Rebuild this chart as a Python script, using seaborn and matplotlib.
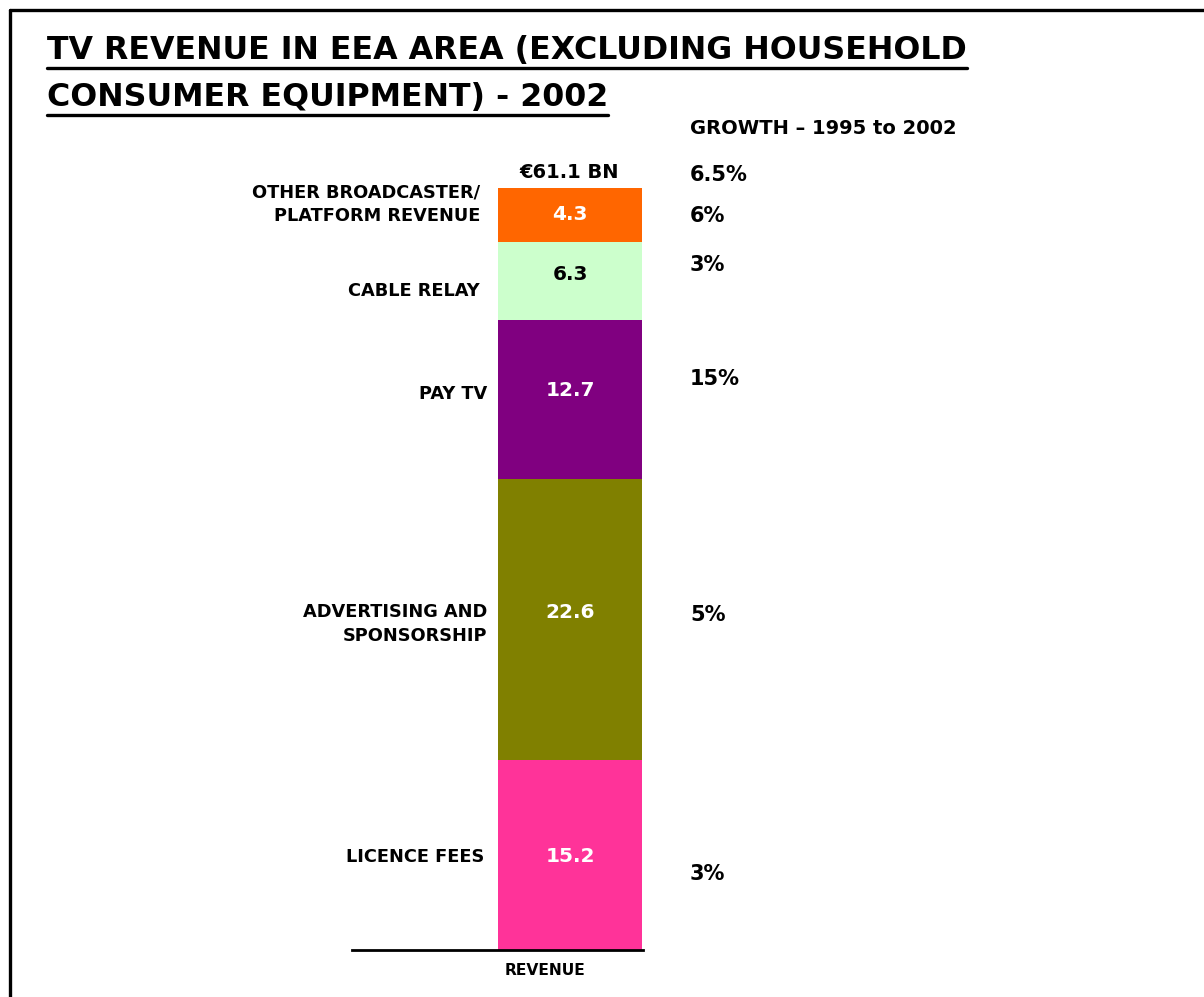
import matplotlib
matplotlib.use("Agg")
import matplotlib.pyplot as plt
from matplotlib.lines import Line2D
import seaborn as sns
import pandas as pd

# Revenue segments, bottom to top (EUR bn, 2002)
segments = ["LICENCE FEES", "ADVERTISING AND\nSPONSORSHIP", "PAY TV",
            "CABLE RELAY", "OTHER BROADCASTER/\nPLATFORM REVENUE"]
values = [15.2, 22.6, 12.7, 6.3, 4.3]
colors = ["#FF3399", "#808000", "#800080", "#CCFFCC", "#FF6600"]
value_text_colors = ["white", "white", "white", "black", "white"]
growth = ["3%", "5%", "15%", "3%", "6%"]
total_label = "€61.1 BN"
total_growth = "6.5%"
category = "REVENUE"

W, H = 1204, 997
sns.set_theme(style="white")
plt.rcParams["font.family"] = ["DejaVu Sans"]
plt.rcParams["font.weight"] = "bold"
plt.rcParams["text.color"] = "black"

fig = plt.figure(figsize=(W / 100, H / 100), dpi=100)

def fx(px):
    return px / W

def fy(py):
    return 1 - py / H

# Axes placed so the stacked bar sits in the middle of the page
ax_left, ax_right = 352, 643
ax_bottom, ax_top = 950, 188
ax = fig.add_axes([fx(ax_left), fy(ax_bottom), fx(ax_right - ax_left),
                   (ax_bottom - ax_top) / H])

# Stacked bar built by overlaying cumulative totals, largest first
cum = []
running = 0.0
for v in values:
    running += v
    cum.append(running)
total = cum[-1]

df = pd.DataFrame({"cat": [category] * len(values), "cum": cum,
                   "seg": segments})
for i in range(len(values) - 1, -1, -1):
    sns.barplot(data=df.iloc[[i]], x="cat", y="cum", color=colors[i],
                width=0.8, saturation=1, ax=ax, linewidth=0)

ax.set_ylim(0, total)
bar_px = 0.8 / (642 - 498)
ax.set_xlim(-0.4 - (498 - ax_left) * bar_px, 0.4 + (ax_right - 642) * bar_px)
ax.set_xlabel("")
ax.set_ylabel("")
ax.set_xticks([])
ax.set_yticks([])
for side in ["left", "right", "top"]:
    ax.spines[side].set_visible(False)
ax.spines["bottom"].set_color("black")
ax.spines["bottom"].set_linewidth(2)
ax.patch.set_alpha(0)

# Page frame (top and left edges visible)
fig.add_artist(Line2D([fx(10), 1.0], [fy(10), fy(10)], color="black", lw=2.4))
fig.add_artist(Line2D([fx(10), fx(10)], [fy(10), 0.0], color="black", lw=2.4))

# Title with underline
title_lines = ["TV REVENUE IN EEA AREA (EXCLUDING HOUSEHOLD",
               "CONSUMER EQUIPMENT) - 2002"]
title_baselines = [59, 106]
title_texts = []
for line, base in zip(title_lines, title_baselines):
    t = fig.text(fx(47), fy(base), line, fontsize=22.8, fontweight="bold",
                 ha="left", va="baseline", color="black")
    title_texts.append(t)

fig.canvas.draw()
renderer = fig.canvas.get_renderer()
for t, base in zip(title_texts, title_baselines):
    bb = t.get_window_extent(renderer)
    x0, x1 = bb.x0 / W, bb.x1 / W
    fig.add_artist(Line2D([x0, x1], [fy(base + 9), fy(base + 9)],
                          color="black", lw=2.4))

# Segment labels on the left
label_pos = [(484, 857), (487, 624), (487, 394), (480, 291), (480, 204)]
for seg, (px, py) in zip(segments, label_pos):
    fig.text(fx(px), fy(py), seg, fontsize=12.8, fontweight="bold",
             ha="right", va="center", linespacing=1.4)

# Values inside the bar
value_y = [856, 612, 390, 275, 214]
for v, c, py in zip(values, value_text_colors, value_y):
    fig.text(fx(570), fy(py), f"{v:.1f}", fontsize=14.5, fontweight="bold",
             ha="center", va="center", color=c)

# Total above the bar
fig.text(fx(569), fy(172), total_label, fontsize=14, fontweight="bold",
         ha="center", va="center")

# Growth column
fig.text(fx(690), fy(129), "GROWTH – 1995 to 2002", fontsize=14,
         fontweight="bold", ha="left", va="center")
fig.text(fx(690), fy(175), total_growth, fontsize=15, fontweight="bold",
         ha="left", va="center")
growth_y = [874, 615, 379, 265, 216]
for g, py in zip(growth, growth_y):
    fig.text(fx(690), fy(py), g, fontsize=15, fontweight="bold",
             ha="left", va="center")

# Category label under the baseline
fig.text(fx(545), fy(970), category, fontsize=11.2, fontweight="bold",
         ha="center", va="center")

fig.savefig("out.png", dpi=100)
